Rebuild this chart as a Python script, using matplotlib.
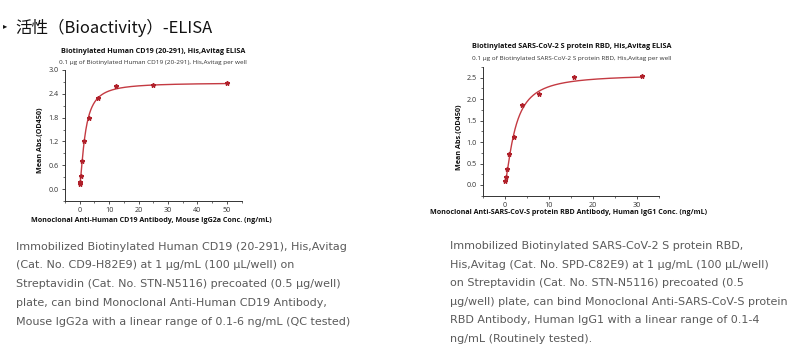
import matplotlib
matplotlib.use("Agg")
import matplotlib.pyplot as plt
import numpy as np
from matplotlib.ticker import MultipleLocator

# ---------------- data ----------------
left_conc = [50, 25, 12.5, 6.25, 3.125, 1.5625, 0.78, 0.39, 0.195, 0.098]
left_od = [2.68, 2.62, 2.59, 2.30, 1.79, 1.20, 0.71, 0.33, 0.17, 0.13]
left_fit = dict(bottom=0.08, top=2.68, ec50=1.85, hill=1.45)

right_conc = [31.25, 15.625, 7.8125, 3.906, 1.953, 0.977, 0.488, 0.244, 0.122]
right_od = [2.55, 2.51, 2.13, 1.87, 1.12, 0.72, 0.38, 0.19, 0.10]
right_fit = dict(bottom=0.03, top=2.58, ec50=2.3, hill=1.4)

page_title = "活性（Bioactivity）-ELISA"
left_title = "Biotinylated Human CD19 (20-291), His,Avitag ELISA"
left_sub = "0.1 µg of Biotinylated Human CD19 (20-291), His,Avitag per well"
left_xlabel = "Monoclonal Anti-Human CD19 Antibody, Mouse IgG2a Conc. (ng/mL)"
right_title = "Biotinylated SARS-CoV-2 S protein RBD, His,Avitag ELISA"
right_sub = "0.1 µg of Biotinylated SARS-CoV-2 S protein RBD, His,Avitag per well"
right_xlabel = "Monoclonal Anti-SARS-CoV-S protein RBD Antibody, Human IgG1 Conc. (ng/mL)"
ylabel = "Mean Abs.(OD450)"

left_desc = ["Immobilized Biotinylated Human CD19 (20-291), His,Avitag",
             "(Cat. No. CD9-H82E9) at 1 µg/mL (100 µL/well) on",
             "Streptavidin (Cat. No. STN-N5116) precoated (0.5 µg/well)",
             "plate, can bind Monoclonal Anti-Human CD19 Antibody,",
             "Mouse IgG2a with a linear range of 0.1-6 ng/mL (QC tested)"]
right_desc = ["Immobilized Biotinylated SARS-CoV-2 S protein RBD,",
              "His,Avitag (Cat. No. SPD-C82E9) at 1 µg/mL (100 µL/well)",
              "on Streptavidin (Cat. No. STN-N5116) precoated (0.5",
              "µg/well) plate, can bind Monoclonal Anti-SARS-CoV-S protein",
              "RBD Antibody, Human IgG1 with a linear range of 0.1-4",
              "ng/mL (Routinely tested)."]

W, H = 800, 362
fig = plt.figure(figsize=(W / 100, H / 100), dpi=100)
fig.patch.set_facecolor("white")

def fx(px):
    return px / W

def fy(py):
    return 1 - py / H

def logistic(x, bottom, top, ec50, hill):
    x = np.asarray(x, dtype=float)
    return bottom + (top - bottom) / (1 + (ec50 / x) ** hill)

curve_color = "#c43a42"
marker_color = "#b0202a"
CF = "Open Sans"

def make_chart(rect, conc, od, fit, xlim, ylim, xmaj, ymaj, title, sub, xlabel,
               title_xy, sub_y, ylab_xy, xlab_y):
    ax = fig.add_axes(rect)
    xs = np.linspace(min(conc) * 0.9, max(conc), 600)
    ax.plot(xs, logistic(xs, **fit), color=curve_color, lw=1.0, zorder=2)
    ax.plot(conc, od, linestyle="none", marker="*", ms=3.3, color=marker_color,
            mec=marker_color, zorder=3)
    ax.set_xlim(*xlim)
    ax.set_ylim(*ylim)
    ax.xaxis.set_major_locator(MultipleLocator(xmaj))
    ax.xaxis.set_minor_locator(MultipleLocator(xmaj / 2))
    ax.yaxis.set_major_locator(MultipleLocator(ymaj))
    ax.yaxis.set_minor_locator(MultipleLocator(ymaj / 2))
    for s in ["top", "right"]:
        ax.spines[s].set_visible(False)
    for s in ["left", "bottom"]:
        ax.spines[s].set_linewidth(0.7)
        ax.spines[s].set_color("#333333")
    ax.tick_params(which="major", direction="out", length=2.5, width=0.6,
                   labelsize=5.2, colors="#333333", pad=2)
    ax.tick_params(which="minor", direction="out", length=1.5, width=0.5,
                   colors="#333333")
    for lab in ax.get_xticklabels() + ax.get_yticklabels():
        lab.set_fontfamily(CF)
    ax.yaxis.set_major_formatter(matplotlib.ticker.FormatStrFormatter("%.1f"))
    ax.xaxis.set_major_formatter(matplotlib.ticker.FormatStrFormatter("%d"))
    fig.text(fx(title_xy[0]), fy(title_xy[1]), title, ha="center", va="center",
             fontsize=5.2, fontweight="bold", family=CF, color="#111111")
    fig.text(fx(title_xy[0]), fy(sub_y), sub, ha="center", va="center",
             fontsize=4.6, family=CF, color="#333333")
    fig.text(fx(ylab_xy[0]), fy(ylab_xy[1]), ylabel, ha="center", va="center",
             rotation=90, fontsize=5.2, fontweight="bold", family=CF, color="#111111")
    fig.text(rect[0] + rect[2] / 2 - 0.003, fy(xlab_y), xlabel, ha="center", va="center",
             fontsize=5.1, fontweight="bold", family=CF, color="#111111")
    return ax

make_chart([fx(65), fy(201), fx(241.5) - fx(65), fy(70) - fy(201)],
           left_conc, left_od, left_fit, (-5, 55), (-0.3, 3.0), 10, 0.6,
           left_title, left_sub, left_xlabel, (153, 51.5), 62.5, (40.5, 140.5), 220)

make_chart([fx(483), fy(195.7), fx(658.6) - fx(483), fy(67) - fy(195.7)],
           right_conc, right_od, right_fit, (-5, 35), (-0.25, 2.75), 10, 0.5,
           right_title, right_sub, right_xlabel, (572, 47), 58.3, (460, 137.5), 213)

# page title
fig.text(fx(3), fy(26), "\u25B8", ha="left", va="center", fontsize=6,
         family="DejaVu Sans", color="#111111")
fig.text(fx(15), fy(28), page_title, ha="left", va="center", fontsize=11.9,
         family=["Noto Sans CJK SC", "DejaVu Sans"], color="#111111")

# descriptions
desc_color = "#5a5a5a"
for i, line in enumerate(left_desc):
    fig.text(fx(16.5), fy(246.7 + i * 18.75), line, ha="left", va="center",
             fontsize=8.05, family="DejaVu Sans", color=desc_color)
for i, line in enumerate(right_desc):
    fig.text(fx(450.5), fy(246 + i * 18.55), line, ha="left", va="center",
             fontsize=8.05, family="DejaVu Sans", color=desc_color)

fig.savefig("out.png", dpi=100)
